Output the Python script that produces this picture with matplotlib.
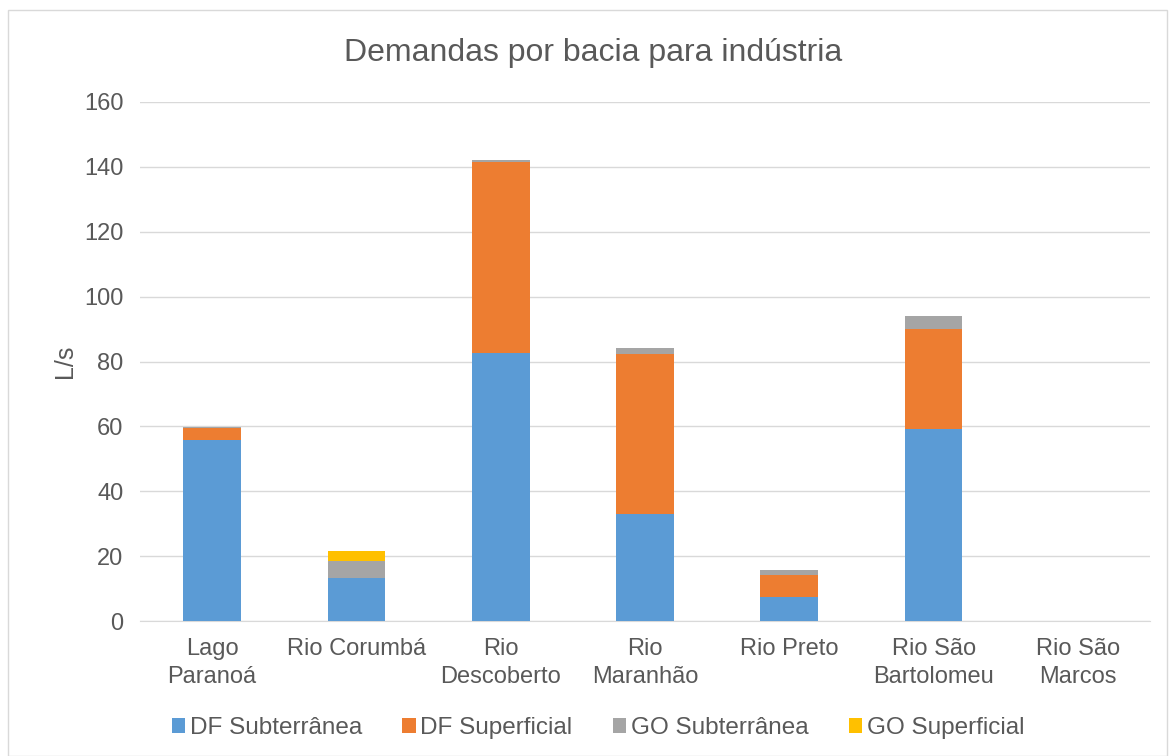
import matplotlib
matplotlib.use("Agg")
import matplotlib.pyplot as plt
from matplotlib.patches import Rectangle
import numpy as np

plt.rcParams['font.family'] = ['Liberation Sans', 'DejaVu Sans']

categories = ["Lago\nParanoá", "Rio Corumbá", "Rio\nDescoberto", "Rio\nMaranhão",
              "Rio Preto", "Rio São\nBartolomeu", "Rio São\nMarcos"]
df_sub = [55.9, 13.3, 82.5, 33.0, 7.4, 59.1, 0]
df_sup = [3.7, 0, 58.9, 49.3, 6.9, 31.0, 0]
go_sub = [0.2, 5.2, 0.7, 1.9, 1.4, 3.9, 0]
go_sup = [0, 3.2, 0, 0, 0, 0, 0]
series_names = ["DF Subterrânea", "DF Superficial", "GO Subterrânea", "GO Superficial"]
colors = ["#5B9BD5", "#ED7D31", "#A5A5A5", "#FFC000"]
yticks = [0, 20, 40, 60, 80, 100, 120, 140, 160]

txt = "#595959"
fig = plt.figure(figsize=(11.69, 7.56), dpi=100)
ax = fig.add_axes([140/1169, 1-621/756, 1010/1169, (621-102)/756])

x = np.arange(len(categories))
bottom = np.zeros(len(categories))
for vals, name, c in zip([df_sub, df_sup, go_sub, go_sup], series_names, colors):
    v = np.array(vals, dtype=float)
    ax.bar(x, v, 0.4, bottom=bottom, color=c, label=name, zorder=3)
    bottom += v

ax.set_xlim(-0.5, len(categories) - 0.5)
ax.set_ylim(0, 160)
ax.set_yticks(yticks)
ax.set_xticks(x)
ax.set_xticklabels(categories, fontsize=17, color=txt, linespacing=1.35)
ax.tick_params(axis='y', labelsize=17, colors=txt, length=0, pad=12)
ax.tick_params(axis='x', length=0, pad=12)
ax.grid(axis='y', color="#D9D9D9", linewidth=1, zorder=0)
for s in ['top', 'right', 'left']:
    ax.spines[s].set_visible(False)
ax.spines['bottom'].set_color("#D9D9D9")
ax.set_ylabel("L/s", fontsize=18, color=txt, labelpad=5)
fig.text(593/1169, 1-53/756, "Demandas por bacia para indústria", fontsize=23,
         color=txt, ha='center', va='center')

leg = fig.legend(loc='center', bbox_to_anchor=(598/1169, 1-728/756), ncol=4, frameon=False,
                 fontsize=17.5, handlelength=0.55, handleheight=0.55, handletextpad=0.2,
                 columnspacing=1.65)
for t in leg.get_texts():
    t.set_color(txt)

fig.patches.append(Rectangle((8/1169, 0), 1-10/1169, 1-10/756, transform=fig.transFigure,
                             fill=False, edgecolor="#D9D9D9", linewidth=1))

fig.savefig("out.png", dpi=100)
